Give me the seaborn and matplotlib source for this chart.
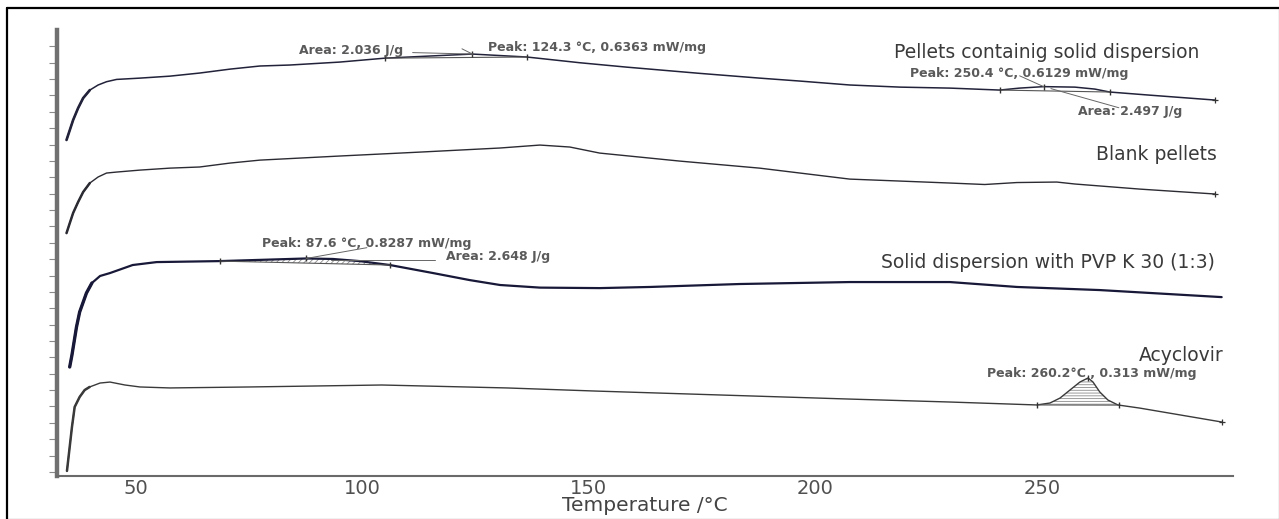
import numpy as np
import pandas as pd
import matplotlib
matplotlib.use("Agg")
import matplotlib.pyplot as plt
from matplotlib.lines import Line2D
import seaborn as sns

# ---- DSC thermograms: temperature (°C) vs stacked heat flow (a.u., traces offset) ----
pellets_sd_temp = [34.7, 35.43, 36.16, 37.26, 38.37, 39.85, 41.68, 43.53, 45.74, 50.9, 57.5,
                   64.1, 70.8, 77.4, 84.0, 95.0, 105.0, 114.9, 124.3, 136.3, 148.0, 158.4,
                   174.5, 187.7, 196.6, 207.6, 218.7, 229.7, 240.7, 245.1, 250.4, 257.3,
                   261.7, 265.0, 273.8, 288.2]
pellets_sd_flow = [20.28, 20.89, 21.50, 22.23, 22.84, 23.33, 23.64, 23.84, 23.98, 24.06, 24.18,
                   24.37, 24.61, 24.80, 24.86, 25.04, 25.28, 25.41, 25.53, 25.35, 25.00, 24.73,
                   24.35, 24.06, 23.88, 23.64, 23.51, 23.45, 23.33, 23.45, 23.54, 23.51,
                   23.39, 23.21, 23.02, 22.72]

blank_temp = [34.7, 35.43, 36.16, 37.26, 38.37, 39.85, 41.68, 43.53, 45.74, 50.9, 57.5,
              64.1, 70.8, 77.4, 95.0, 112.7, 130.4, 139.2, 145.8, 152.4, 170.1, 187.7,
              207.6, 218.7, 229.7, 237.4, 244.5, 253.3, 257.3, 271.6, 288.2]
blank_flow = [14.59, 15.21, 15.82, 16.49, 17.10, 17.65, 18.02, 18.26, 18.32, 18.44, 18.56,
              18.63, 18.87, 19.05, 19.30, 19.54, 19.79, 19.97, 19.85, 19.48, 18.99, 18.56,
              17.89, 17.77, 17.65, 17.56, 17.68, 17.71, 17.59, 17.28, 16.98]

sd_pvp_temp = [35.4, 35.9, 36.9, 37.6, 39.1, 40.3, 42.1, 44.3, 49.3, 54.6, 68.5, 87.6, 93.5,
               99.4, 106.1, 115.6, 123.7, 130.4, 139.2, 152.4, 163.5, 183.3, 207.6, 229.7,
               244.5, 262.8, 289.7]
sd_pvp_flow = [6.41, 7.14, 8.85, 9.77, 10.93, 11.54, 11.97, 12.15, 12.64, 12.82, 12.88, 13.04,
               13.01, 12.88, 12.64, 12.15, 11.72, 11.42, 11.26, 11.23, 11.30, 11.48, 11.60,
               11.60, 11.30, 11.11, 10.68]

acyclovir_temp = [34.8, 35.4, 35.9, 36.5, 37.6, 38.7, 39.8, 42.1, 44.3, 47.6, 50.9, 57.5, 75.2,
                  104.3, 131.9, 151.5, 207.6, 229.7, 248.9, 251.8, 254.0, 256.2, 258.4, 260.2,
                  261.3, 262.8, 264.6, 266.8, 271.6, 289.7]
acyclovir_flow = [0.06, 1.52, 2.74, 3.97, 4.58, 5.00, 5.19, 5.43, 5.49, 5.31, 5.19, 5.13, 5.19,
                  5.31, 5.13, 4.94, 4.45, 4.27, 4.09, 4.21, 4.51, 5.00, 5.49, 5.74,
                  5.49, 4.88, 4.39, 4.09, 3.90, 3.05]

sample_names = ["Pellets containig solid dispersion", "Blank pellets",
                "Solid dispersion with PVP K 30 (1:3)", "Acyclovir"]

# thermal events: onset, peak, end temperatures (°C) and instrument readouts
event_onset = [105.0, 240.7, 68.5, 248.9]
event_peak = [124.3, 250.4, 87.6, 260.2]
event_end = [136.3, 265.0, 106.1, 267.0]
peak_labels = ["Peak: 124.3 °C, 0.6363 mW/mg", "Peak: 250.4 °C, 0.6129 mW/mg",
               "Peak: 87.6 °C, 0.8287 mW/mg", "Peak: 260.2°C , 0.313 mW/mg"]
area_labels = ["Area: 2.036 J/g", "Area: 2.497 J/g", "Area: 2.648 J/g", None]

x_major = [50, 100, 150, 200, 250]
x_minor = list(range(40, 300, 10))

# ---- figure ----
sns.set_style("white")
plt.rcParams["font.family"] = ["DejaVu Sans"]
plt.rcParams["hatch.linewidth"] = 0.6

W, H = 1279, 519
fig = plt.figure(figsize=(W / 100, H / 100), dpi=100)
ax = fig.add_axes([57 / W, 43 / H, 1176 / W, 446 / H])

traces = [
    (pellets_sd_temp, pellets_sd_flow, "#22223a", 1.1),
    (blank_temp, blank_flow, "#2b2b33", 1.0),
    (sd_pvp_temp, sd_pvp_flow, "#181838", 1.6),
    (acyclovir_temp, acyclovir_flow, "#3a3a3a", 1.0),
]
for name, (t, f, c, lw) in zip(sample_names, traces):
    df = pd.DataFrame({"Temperature": t, "Heat flow": f})
    sns.lineplot(data=df, x="Temperature", y="Heat flow", ax=ax, color=c, lw=lw,
                 sort=False, estimator=None, legend=False)
    # the steep start-up transient is drawn heavier by the instrument
    rise = df[df["Temperature"] < 40.5]
    sns.lineplot(data=rise, x="Temperature", y="Heat flow", ax=ax, color=c, lw=lw + 0.8,
                 sort=False, estimator=None, legend=False)

ann_color = "#5a5a5a"


def mark_event(t, f, t0, tp, t1, hatch):
    t = np.asarray(t)
    f = np.asarray(f)
    y0, yp, y1 = np.interp([t0, tp, t1], t, f)
    ax.plot([t0, t1], [y0, y1], color="#555555", lw=0.8)
    ax.plot([t0, tp, t1], [y0, yp, y1], ls="none", marker="|", ms=4, mew=1.0,
            color="#333333")
    if hatch:
        tt = np.linspace(t0, t1, 80)
        ax.fill_between(tt, np.interp(tt, t, f), np.interp(tt, [t0, t1], [y0, y1]),
                        facecolor="none", edgecolor="#8a8a8a", hatch=hatch, lw=0)
    return yp


ann_kw = dict(fontsize=9, color=ann_color, ha="center", va="center", fontweight="bold")

# pellets containing solid dispersion: two events
yp = mark_event(pellets_sd_temp, pellets_sd_flow, event_onset[0], event_peak[0], event_end[0], None)
ax.text(97.5, 25.77, area_labels[0], **ann_kw)
ax.text(151.8, 25.96, peak_labels[0], **ann_kw)
ax.plot([111.1, event_peak[0]], [25.62, yp], color="#666666", lw=0.7)
ax.plot([122.0, event_peak[0]], [25.85, yp], color="#666666", lw=0.7)

yp = mark_event(pellets_sd_temp, pellets_sd_flow, event_onset[1], event_peak[1], event_end[1], None)
ax.text(245.1, 24.37, peak_labels[1], **ann_kw)
ax.text(269.6, 22.05, area_labels[1], **ann_kw)
ax.plot([245.1, event_peak[1]], [24.2, yp], color="#666666", lw=0.7)
ax.plot([267.0, 252.0], [22.25, 23.42], color="#666666", lw=0.7)

# solid dispersion with PVP K 30
yp = mark_event(sd_pvp_temp, sd_pvp_flow, event_onset[2], event_peak[2], event_end[2], "//////")
ax.text(101.0, 13.98, peak_labels[2], **ann_kw)
ax.text(129.9, 13.19, area_labels[2], **ann_kw)
ax.plot([101.0, event_peak[2]], [13.70, yp], color="#666666", lw=0.7)
ax.plot([93.0, 116.0], [12.95, 12.95], color="#666666", lw=0.7)

# acyclovir melting endotherm
mark_event(acyclovir_temp, acyclovir_flow, event_onset[3], event_peak[3], event_end[3], "------")
ax.text(261.0, 6.04, peak_labels[3], **ann_kw)

# end-of-run markers
for t, f in [(pellets_sd_temp, pellets_sd_flow), (blank_temp, blank_flow),
             (acyclovir_temp, acyclovir_flow)]:
    ax.plot(t[-1], f[-1], marker="+", ms=4, mew=0.9, color="#333333")

# sample names
lab_kw = dict(fontsize=13.5, color="#3a3a3a", ha="center", va="center")
ax.text(251.1, 25.65, sample_names[0], **lab_kw)
ax.text(275.2, 19.42, sample_names[1], **lab_kw)
ax.text(251.3, 12.82, sample_names[2], **lab_kw)
ax.text(280.7, 7.14, sample_names[3], **lab_kw)

# ---- axes styling ----
ax.set_xlim(32.6, 292.2)
ax.set_ylim(-0.25, 27.0)
ax.set_xticks(x_major)
ax.set_xticks(x_minor, minor=True)
ax.set_yticks(range(0, 27))
ax.set_yticklabels([])
ax.set_xlabel("Temperature /°C", fontsize=14.5, color="#444444", labelpad=-1)
ax.set_ylabel("")
ax.tick_params(axis="x", which="both", direction="in", length=3, width=1.0,
               color="#666666", labelsize=14, labelcolor="#505050", pad=2)
ax.tick_params(axis="y", which="major", direction="out", length=5.5, width=0.8,
               color="#8a8a8a", left=True)
for side in ("top", "right"):
    ax.spines[side].set_visible(False)
ax.spines["left"].set_color("#707070")
ax.spines["left"].set_linewidth(3.2)
ax.spines["bottom"].set_color("#6a6a6a")
ax.spines["bottom"].set_linewidth(1.5)
ax.set_facecolor("none")

# page frame
frame = dict(color="black", lw=1.6, transform=fig.transFigure)
fig.add_artist(Line2D([7 / W, 1], [1 - 8 / H, 1 - 8 / H], **frame))
fig.add_artist(Line2D([7 / W, 7 / W], [0, 1 - 8 / H], **frame))
fig.add_artist(Line2D([1 - 0.5 / W, 1 - 0.5 / W], [0, 1 - 8 / H], color="black", lw=0.8,
                      transform=fig.transFigure))
fig.add_artist(Line2D([7 / W, 1], [0.5 / H, 0.5 / H], color="black", lw=0.8,
                      transform=fig.transFigure))

fig.savefig("out.png", dpi=100, facecolor="white")
